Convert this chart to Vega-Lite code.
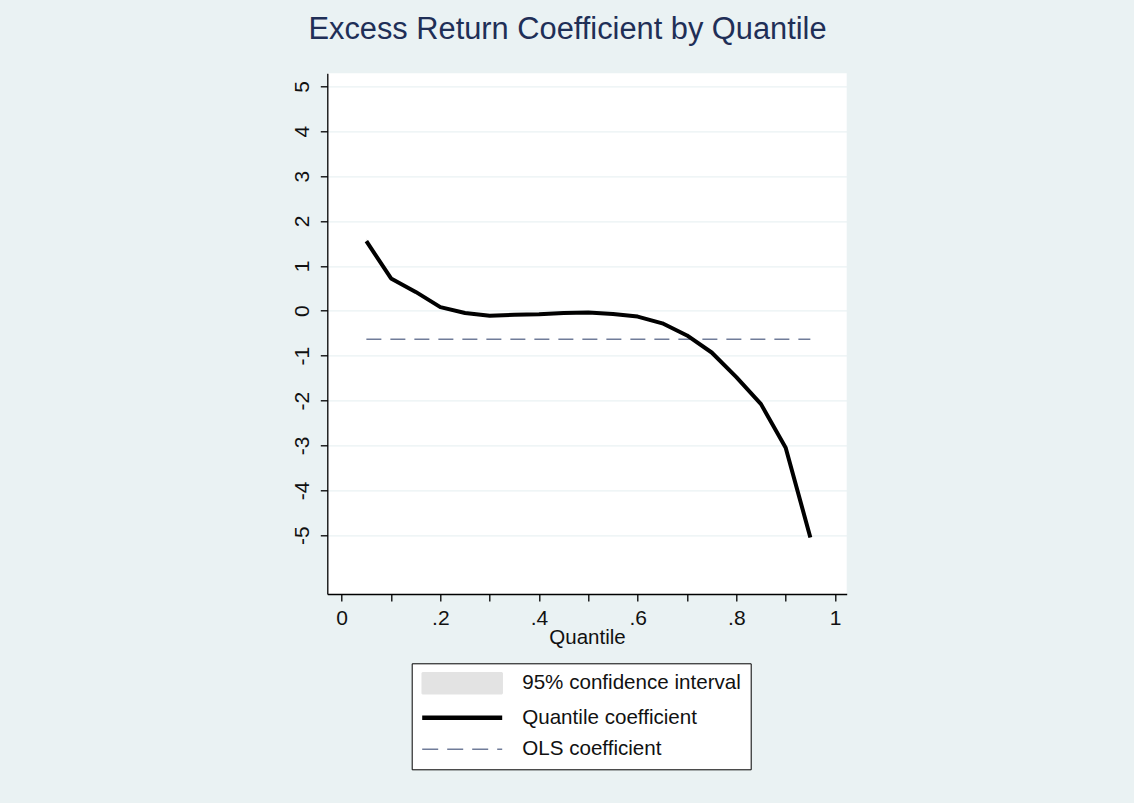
{
  "$schema": "https://vega.github.io/schema/vega-lite/v6.json",
  "width": 519.4,
  "height": 520.7,
  "autosize": {"type": "none"},
  "padding": {"left": 327.3, "top": 73.3, "right": 287.3, "bottom": 209},
  "background": "#EAF2F3",
  "config": {
    "view": {"fill": "white", "stroke": null},
    "font": "Liberation Sans"
  },
  "title": {
    "text": "Excess Return Coefficient by Quantile",
    "font": "Liberation Sans",
    "fontSize": 30.8,
    "fontWeight": "normal",
    "color": "#1F2F57",
    "anchor": "middle",
    "baseline": "alphabetic",
    "dx": -19.5,
    "offset": 3.3
  },
  "data": {
    "values": [
      {"q": 0.05, "coef": 1.55, "lo": 1.49, "hi": 1.61, "ols": -0.635},
      {"q": 0.10, "coef": 0.72, "lo": 0.68, "hi": 0.76, "ols": -0.635},
      {"q": 0.15, "coef": 0.42, "lo": 0.39, "hi": 0.45, "ols": -0.635},
      {"q": 0.20, "coef": 0.08, "lo": 0.05, "hi": 0.11, "ols": -0.635},
      {"q": 0.25, "coef": -0.05, "lo": -0.08, "hi": -0.02, "ols": -0.635},
      {"q": 0.30, "coef": -0.11, "lo": -0.14, "hi": -0.08, "ols": -0.635},
      {"q": 0.35, "coef": -0.09, "lo": -0.12, "hi": -0.06, "ols": -0.635},
      {"q": 0.40, "coef": -0.08, "lo": -0.11, "hi": -0.05, "ols": -0.635},
      {"q": 0.45, "coef": -0.05, "lo": -0.08, "hi": -0.02, "ols": -0.635},
      {"q": 0.50, "coef": -0.04, "lo": -0.07, "hi": -0.01, "ols": -0.635},
      {"q": 0.55, "coef": -0.07, "lo": -0.10, "hi": -0.04, "ols": -0.635},
      {"q": 0.60, "coef": -0.13, "lo": -0.16, "hi": -0.10, "ols": -0.635},
      {"q": 0.65, "coef": -0.28, "lo": -0.31, "hi": -0.25, "ols": -0.635},
      {"q": 0.70, "coef": -0.55, "lo": -0.58, "hi": -0.52, "ols": -0.635},
      {"q": 0.75, "coef": -0.93, "lo": -0.96, "hi": -0.90, "ols": -0.635},
      {"q": 0.80, "coef": -1.48, "lo": -1.51, "hi": -1.45, "ols": -0.635},
      {"q": 0.85, "coef": -2.08, "lo": -2.11, "hi": -2.05, "ols": -0.635},
      {"q": 0.90, "coef": -3.05, "lo": -3.09, "hi": -3.01, "ols": -0.635},
      {"q": 0.95, "coef": -5.05, "lo": -5.10, "hi": -5.00, "ols": -0.635}
    ]
  },
  "encoding": {
    "x": {
      "field": "q",
      "type": "quantitative",
      "scale": {"domain": [-0.0292, 1.0237], "nice": false, "zero": false},
      "axis": {
        "title": "Quantile",
        "values": [0, 0.1, 0.2, 0.3, 0.4, 0.5, 0.6, 0.7, 0.8, 0.9, 1],
        "labelExpr": "datum.value == 0 ? '0' : datum.value == 1 ? '1' : (round(datum.value * 10) % 2 == 1 ? '' : '.' + round(datum.value * 10))",
        "grid": false,
        "domainColor": "black",
        "domainWidth": 1.3,
        "tickColor": "black",
        "tickWidth": 1.3,
        "tickSize": 7,
        "labelFont": "Liberation Sans",
        "labelFontSize": 21,
        "labelColor": "#111111",
        "labelPadding": 6,
        "labelFlush": false,
        "labelOverlap": false,
        "titleFont": "Liberation Sans",
        "titleFontSize": 20.5,
        "titleFontWeight": "normal",
        "titleColor": "#111111",
        "titlePadding": -1
      }
    }
  },
  "layer": [
    {
      "mark": {"type": "area", "opacity": 1},
      "encoding": {
        "y": {
          "field": "lo",
          "type": "quantitative",
          "scale": {"domain": [-6.31, 5.29], "nice": false, "zero": false},
          "axis": {
            "title": null,
            "values": [-5, -4, -3, -2, -1, 0, 1, 2, 3, 4, 5],
            "labelExpr": "'' + datum.value",
            "labelAngle": 270,
            "labelAlign": "center",
            "labelBaseline": "alphabetic",
            "labelFont": "Liberation Sans",
            "labelFontSize": 21,
            "labelColor": "#111111",
            "labelPadding": 12,
            "domainColor": "black",
            "domainWidth": 1.3,
            "tickColor": "black",
            "tickWidth": 1.3,
            "tickSize": 7,
            "gridColor": "#EAF2F3",
            "gridWidth": 1.2
          }
        },
        "y2": {"field": "hi"},
        "color": {
          "datum": "95% confidence interval",
          "type": "nominal",
          "scale": {
            "domain": ["95% confidence interval", "Quantile coefficient", "OLS coefficient"],
            "range": ["#E3E3E3", "#000000", "#707C99"]
          },
          "legend": {
            "title": null,
            "orient": "none",
            "legendX": 84.4,
            "legendY": 590,
            "direction": "vertical",
            "padding": 9,
            "rowPadding": 9.5,
            "fillColor": "white",
            "strokeColor": "black",
            "labelFont": "Liberation Sans",
            "labelFontSize": 20.6,
            "labelColor": "#111111",
            "labelOffset": 49,
            "labelLimit": 400,
            "labelExpr": "datum.label + '\u2002\u2009\u2002\u2009'",
            "symbolSize": 400,
            "symbolOffset": 30.5,
            "symbolOpacity": 1,
            "symbolType": {"expr": "(datum.value === '95% confidence interval' ? 'M-4,-1.05H4V1.05H-4Z' : 'M-4,0H4')"},
            "symbolStrokeWidth": {"expr": "(datum.value === 'Quantile coefficient' ? 4.5 : 1.5)"},
            "symbolDash": {"expr": "(datum.value === 'OLS coefficient' ? [16, 9] : [1, 0])"}
          }
        }
      }
    },
    {
      "mark": {"type": "rule", "color": "black", "strokeWidth": 1.3},
      "encoding": {"y": {"datum": 0, "type": "quantitative"}}
    },
    {
      "mark": {"type": "line", "strokeDash": [15, 9], "strokeWidth": 1.6},
      "encoding": {
        "y": {"field": "ols", "type": "quantitative"},
        "color": {"datum": "OLS coefficient", "type": "nominal"}
      }
    },
    {
      "mark": {"type": "line", "strokeWidth": 4, "strokeJoin": "round"},
      "encoding": {
        "y": {"field": "coef", "type": "quantitative"},
        "color": {"datum": "Quantile coefficient", "type": "nominal"}
      }
    }
  ]
}
